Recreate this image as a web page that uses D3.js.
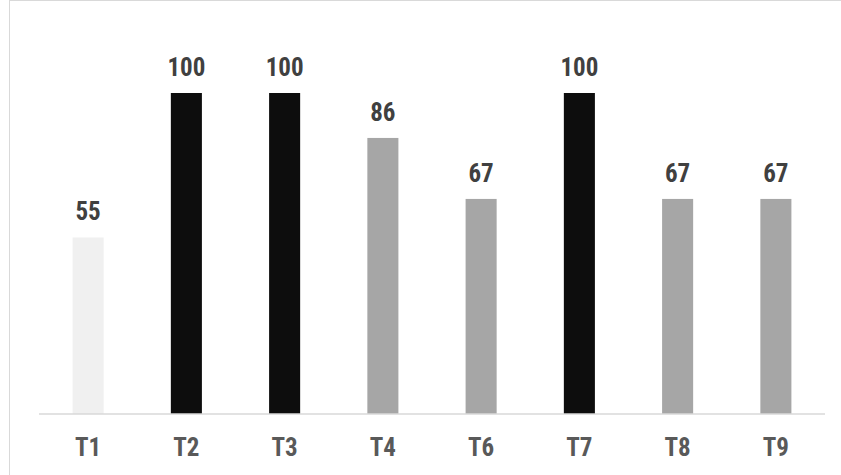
<!DOCTYPE html>
<html>
<head>
<meta charset="utf-8">
<script src="https://cdn.jsdelivr.net/npm/d3@7"></script>
<style>
  html, body { margin: 0; padding: 0; background: #fff; }
  svg { display: block; }
  text { font-family: "Liberation Sans Narrow", "Arial Narrow", "Roboto Condensed", sans-serif; font-weight: bold; }
</style>
</head>
<body>
<svg id="chart" width="841" height="475"></svg>
<script>
// Scores per test
const categories = ["T1", "T2", "T3", "T4", "T6", "T7", "T8", "T9"];
const values = [55, 100, 100, 86, 67, 100, 67, 67];
const barColors = ["#f0f0f0", "#0d0d0d", "#0d0d0d", "#a6a6a6", "#a6a6a6", "#0d0d0d", "#a6a6a6", "#a6a6a6"];

const width = 841, height = 475;
const margin = { left: 39, right: 16, top: 93, baseline: 414 };

const svg = d3.select("#chart");

// Chart frame
svg.append("rect")
  .attr("x", 9.5).attr("y", 0.5)
  .attr("width", 840).attr("height", 500)
  .attr("fill", "none")
  .attr("stroke", "#d9d9d9")
  .attr("stroke-width", 1);

const x = d3.scaleBand()
  .domain(categories)
  .range([margin.left, width - margin.right])
  .paddingInner(0.684)
  .paddingOuter(0.342);

const y = d3.scaleLinear()
  .domain([0, 100])
  .range([margin.baseline, margin.top]);

// Bars
svg.append("g").selectAll("rect")
  .data(values)
  .join("rect")
  .attr("x", (d, i) => x(categories[i]))
  .attr("y", d => y(d))
  .attr("width", x.bandwidth())
  .attr("height", d => y(0) - y(d))
  .attr("fill", (d, i) => barColors[i]);

// Baseline axis
const axis = d3.axisBottom(x).tickSize(0).tickPadding(24);
const gAxis = svg.append("g")
  .attr("transform", `translate(0,${margin.baseline})`)
  .call(axis);
gAxis.select(".domain").attr("stroke", "#d9d9d9").attr("stroke-width", 1.5)
  .attr("d", `M${margin.left},0H${width - margin.right}`);
gAxis.selectAll("text")
  .attr("fill", "#595959")
  .attr("font-size", 25)
  .attr("dy", "0.71em")
  .style("font-family", "'Liberation Sans Narrow', 'Arial Narrow', 'Roboto Condensed', sans-serif")
  .style("font-weight", "bold");

// Value labels
svg.append("g").selectAll("text")
  .data(values)
  .join("text")
  .attr("x", (d, i) => x(categories[i]) + x.bandwidth() / 2)
  .attr("y", d => y(d) - 17)
  .attr("text-anchor", "middle")
  .attr("font-size", 25)
  .attr("fill", "#404040")
  .text(d => d);
</script>
</body>
</html>
